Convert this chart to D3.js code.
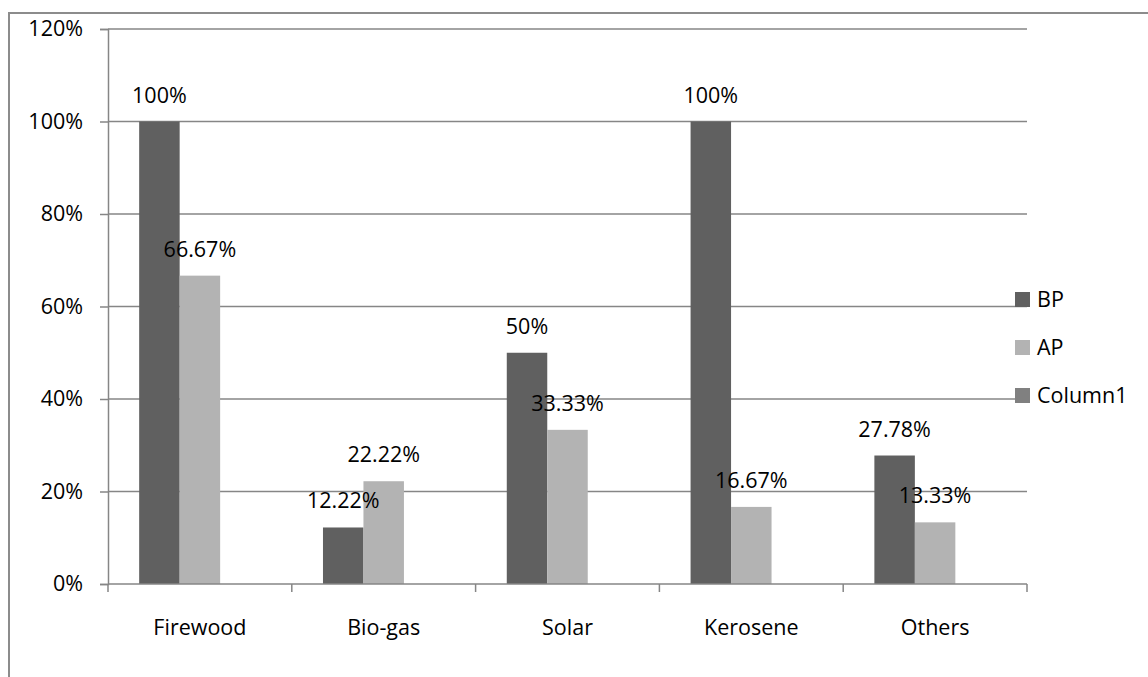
<!DOCTYPE html>
<html>
<head>
<meta charset="utf-8">
<script src="https://cdn.jsdelivr.net/npm/d3@7"></script>
<style>
  body { margin: 0; background: #fff; }
  text { font-family: "Open Sans", sans-serif; fill: #000; }
</style>
</head>
<body>
<div id="chart"></div>
<script>
// data
var categories = ["Firewood", "Bio-gas", "Solar", "Kerosene", "Others"]
var seriesNames = ["BP", "AP", "Column1"]
var bpValues = [100, 12.22, 50, 100, 27.78]
var apValues = [66.67, 22.22, 33.33, 16.67, 13.33]
var column1Values = [null, null, null, null, null]
var yTicks = [0, 20, 40, 60, 80, 100, 120]

var colors = { BP: "#606060", AP: "#b3b3b3", Column1: "#808080" }
var fontSize = "21.5px"

var svgWidth = 1148
var svgHeight = 677

var margin = { top: 29, right: 121, bottom: 93, left: 108 }
var width = svgWidth - margin.left - margin.right
var height = svgHeight - margin.top - margin.bottom

var svg = d3.select("#chart")
  .append("svg")
  .attr("width", svgWidth)
  .attr("height", svgHeight)

// outer chart border (runs off the right and bottom edge)
svg.append("rect")
  .attr("x", 9)
  .attr("y", 13)
  .attr("width", svgWidth + 20)
  .attr("height", svgHeight + 20)
  .attr("fill", "none")
  .attr("stroke", "#8c8c8c")
  .attr("stroke-width", 2)

var chartGroup = svg.append("g")
  .attr("transform", `translate(${margin.left}, ${margin.top})`)

// flatten to one record per bar
var bars = []
categories.forEach(function(c, i) {
  var vals = { BP: bpValues[i], AP: apValues[i], Column1: column1Values[i] }
  seriesNames.forEach(function(s) {
    if (vals[s] != null) bars.push({ category: c, key: s, value: vals[s] })
  })
})

// scales
var x0 = d3.scaleBand()
  .domain(categories)
  .range([0, width])
  .padding(0)

var x1 = d3.scaleBand()
  .domain(seriesNames)
  .range([0, x0.bandwidth()])
  .paddingInner(0)
  .paddingOuter(0.77)

var yScale = d3.scaleLinear()
  .domain([0, 120])
  .range([height, 0])

// gridlines
chartGroup.append("g")
  .selectAll("line")
  .data(yTicks.filter(d => d > 0))
  .enter()
  .append("line")
  .attr("x1", 0)
  .attr("x2", width)
  .attr("y1", d => yScale(d))
  .attr("y2", d => yScale(d))
  .attr("stroke", "#868686")
  .attr("stroke-width", 1.3)

// bars
chartGroup.append("g")
  .selectAll("rect")
  .data(bars)
  .enter()
  .append("rect")
  .attr("x", d => x0(d.category) + x1(d.key))
  .attr("width", x1.bandwidth())
  .attr("y", d => yScale(d.value))
  .attr("height", d => height - yScale(d.value))
  .attr("fill", d => colors[d.key])

// axes
var leftAxis = d3.axisLeft(yScale)
  .tickValues(yTicks)
  .tickSize(8)
  .tickPadding(17)
  .tickFormat(d => d + "%")

var yAxisG = chartGroup.append("g")
  .call(leftAxis)
yAxisG.select(".domain").attr("stroke", "#868686").attr("stroke-width", 1.5)
yAxisG.selectAll(".tick line").attr("stroke", "#868686").attr("stroke-width", 1.5)
yAxisG.selectAll(".tick text")
  .style("font-size", fontSize)
  .style("font-family", "'Open Sans', sans-serif")
  .attr("fill", "#000")

var bottomAxis = d3.axisBottom(x0)
  .tickSize(0)
  .tickPadding(36)

var xAxisG = chartGroup.append("g")
  .attr("transform", `translate(0, ${height})`)
  .call(bottomAxis)
xAxisG.select(".domain").remove()
xAxisG.selectAll(".tick text")
  .style("font-size", fontSize)
  .style("font-family", "'Open Sans', sans-serif")
  .attr("fill", "#000")

chartGroup.append("line")
  .attr("x1", 0)
  .attr("x2", width)
  .attr("y1", height)
  .attr("y2", height)
  .attr("stroke", "#868686")
  .attr("stroke-width", 1.5)

// category boundary ticks
chartGroup.append("g")
  .selectAll("line")
  .data(categories.concat(["end"]))
  .enter()
  .append("line")
  .attr("x1", (d, i) => i < categories.length ? x0(d) : width)
  .attr("x2", (d, i) => i < categories.length ? x0(d) : width)
  .attr("y1", height)
  .attr("y2", height + 8)
  .attr("stroke", "#868686")
  .attr("stroke-width", 1.5)

// value labels, drawn on top of every bar
chartGroup.append("g")
  .selectAll("text")
  .data(bars)
  .enter()
  .append("text")
  .attr("x", d => x0(d.category) + x1(d.key) + x1.bandwidth() / 2)
  .attr("y", d => yScale(d.value) - 19)
  .attr("text-anchor", "middle")
  .style("font-size", fontSize)
  .text(d => d.value + "%")

// legend
var legend = svg.append("g")
  .attr("transform", "translate(1015, 292)")

var legendItems = legend.selectAll("g")
  .data(seriesNames)
  .enter()
  .append("g")
  .attr("transform", (d, i) => `translate(0, ${i * 48})`)

legendItems.append("rect")
  .attr("width", 15)
  .attr("height", 15)
  .attr("fill", d => colors[d])

legendItems.append("text")
  .attr("x", 22)
  .attr("y", 15)
  .style("font-size", fontSize)
  .text(d => d)
</script>
</body>
</html>
